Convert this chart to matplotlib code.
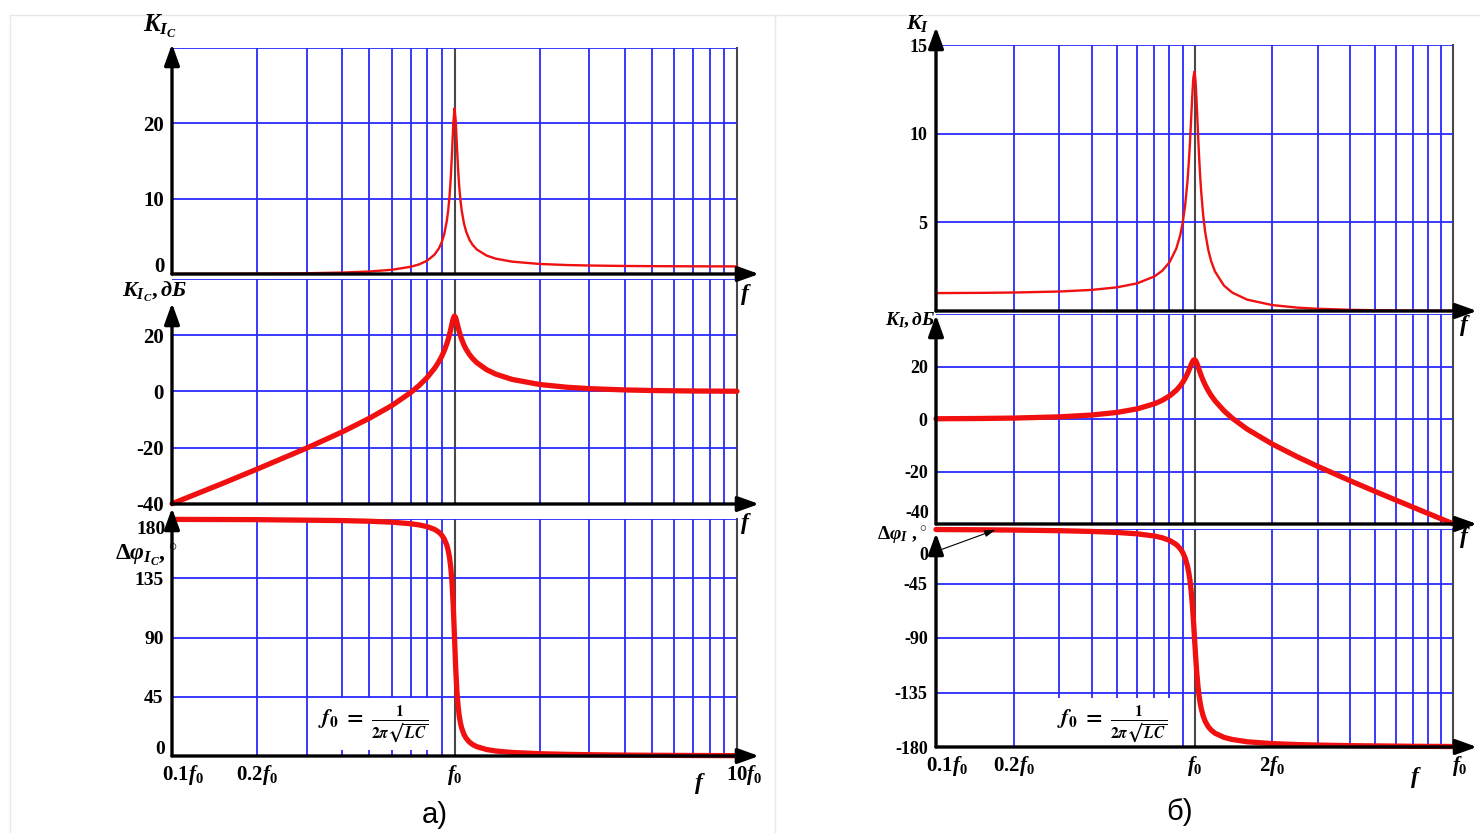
import numpy as np
import matplotlib
matplotlib.use('Agg')
import matplotlib.pyplot as plt
from matplotlib.ticker import NullLocator, LogLocator, NullFormatter
from matplotlib.patches import FancyArrowPatch
from matplotlib.lines import Line2D

plt.rcParams['font.family'] = ['Liberation Serif', 'DejaVu Serif']
plt.rcParams['font.weight'] = 'bold'
plt.rcParams['mathtext.fontset'] = 'custom'
plt.rcParams['mathtext.rm'] = 'Liberation Serif:bold'
plt.rcParams['mathtext.it'] = 'Liberation Serif:bold:italic'
plt.rcParams['mathtext.bf'] = 'Liberation Serif:bold'

# ---------------- data ----------------
# relative frequency f/f0
freq = [0.1, 0.15, 0.2, 0.3, 0.4, 0.5, 0.6, 0.7, 0.75, 0.8, 0.85, 0.88, 0.9, 0.92,
        0.94, 0.95, 0.96, 0.97, 0.98, 0.99, 1.0, 1.01, 1.02, 1.03, 1.04, 1.05, 1.06,
        1.08, 1.1, 1.13, 1.16, 1.2, 1.3, 1.4, 1.6, 2.0, 2.5, 3.0, 4.0, 5.0, 7.0, 10.0]

# panel a) : K_IC
kc_lin = [0.0101, 0.023, 0.0417, 0.0989, 0.19, 0.333, 0.5625, 0.959, 1.282, 1.769, 2.578,
          3.38, 4.169, 5.317, 7.126, 8.466, 10.27, 12.77, 16.11, 19.9, 22.0, 20.35, 16.92,
          13.81, 11.47, 9.75, 8.47, 6.72, 5.605, 4.534, 3.849, 3.248, 2.44, 2.037, 1.639,
          1.333, 1.19, 1.125, 1.067, 1.042, 1.021, 1.01]
kc_db = [-39.9, -32.8, -27.6, -20.1, -14.4, -9.5, -5.0, -0.36, 2.16, 4.95, 8.23, 10.58,
         12.40, 14.51, 17.06, 18.55, 20.23, 22.12, 24.14, 25.98, 26.85, 26.17, 24.57, 22.80,
         21.19, 19.78, 18.56, 16.55, 14.97, 13.13, 11.71, 10.23, 7.75, 6.18, 4.29, 2.50,
         1.51, 1.02, 0.56, 0.35, 0.18, 0.09]
kc_phase = [179.7, 179.6, 179.5, 179.1, 178.8, 178.3, 177.6, 176.4, 175.5, 174.2, 172.1,
            170.0, 167.9, 164.8, 159.9, 156.1, 150.9, 143.3, 131.6, 113.9, 90.0, 66.4, 48.9,
            37.5, 30.1, 24.95, 21.3, 16.4, 13.4, 10.5, 8.67, 7.06, 4.9, 3.79, 2.67, 1.74,
            1.24, 0.97, 0.69, 0.54, 0.38, 0.26]

# panel б) : K_I
ki_lin = [1.01, 1.023, 1.042, 1.099, 1.19, 1.332, 1.559, 1.951, 2.268, 2.741, 3.514, 4.259,
          4.967, 5.952, 7.373, 8.317, 9.445, 10.75, 12.09, 13.16, 13.5, 12.9, 11.67, 10.24,
          8.91, 7.77, 6.83, 5.417, 4.439, 3.457, 2.808, 2.228, 1.435, 1.036, 0.639, 0.333,
          0.19, 0.125, 0.0667, 0.0417, 0.0208, 0.0101]
ki_db = [0.09, 0.20, 0.35, 0.82, 1.51, 2.49, 3.86, 5.80, 7.11, 8.76, 10.92, 12.59, 13.92,
         15.49, 17.35, 18.40, 19.50, 20.63, 21.65, 22.38, 22.61, 22.21, 21.34, 20.21, 19.00,
         17.81, 16.69, 14.68, 12.95, 10.77, 8.97, 6.96, 3.14, 0.30, -3.89, -9.55, -14.41,
         -18.06, -23.52, -27.6, -33.6, -39.9]
ki_phase = [-0.43, -0.65, -0.88, -1.40, -2.02, -2.83, -3.97, -5.81, -7.24, -9.35, -12.79,
            -16.12, -19.33, -23.92, -30.88, -35.83, -42.2, -50.57, -61.4, -74.8, -90.0,
            -105.0, -118.1, -128.6, -136.7, -142.8, -147.6, -154.3, -158.8, -163.2, -166.0,
            -168.6, -172.05, -173.8, -175.7, -177.2, -178.0, -178.4, -178.9, -179.1, -179.4,
            -179.6]

# y ticks ('' = label drawn separately, shifted off the neighbouring axis)
a1_ticks, a1_labels = [0, 10, 20, 30], ['', '10', '20', '']
a2_ticks, a2_labels = [-40, -20, 0, 20, 40], ['-40', '-20', '0', '20', '']
a3_ticks, a3_labels = [0, 45, 90, 135, 180], ['', '45', '90', '135', '']
b1_ticks, b1_labels = [0, 5, 10, 15], ['', '5', '10', '15']
b2_ticks, b2_labels = [-40, -20, 0, 20, 40], ['', '-20', '0', '20', '']
b3_ticks, b3_labels = [-180, -135, -90, -45, 0], ['-180', '-135', '-90', '-45', '']

# x tick labels
a_xticks = [0.1, 0.2, 1.0, 10.0]
a_xlabels = [r'$0.1f_0$', r'$0.2f_0$', r'$f_0$', r'$10f_0$']
b_xticks = [0.1, 0.2, 1.0, 2.0, 10.0]
b_xlabels = [r'$0.1f_0$', r'$0.2f_0$', r'$f_0$', r'$2f_0$', r'$f_0$']

# ---------------- figure ----------------
W, H = 1480, 833
fig = plt.figure(figsize=(W / 100, H / 100), dpi=100)
fig.patch.set_facecolor('white')

BLUE = '#2a2aff'
RED = '#f01010'
GRAY = '#484848'


def fx(x):
    return x / W


def fy(y):
    return 1 - y / H


def arrow(x0, y0, x1, y1, lw=2.4):
    fig.add_artist(FancyArrowPatch((fx(x0), fy(y0)), (fx(x1), fy(y1)),
                                   transform=fig.transFigure,
                                   arrowstyle='-|>,head_length=0.75,head_width=0.27',
                                   mutation_scale=17, lw=lw, color='black',
                                   shrinkA=0, shrinkB=0, zorder=6))


def make_ax(x0, x1, ytop, ybot, ylim, ticks, labels, ytip, xtip, fsize):
    ax = fig.add_axes([fx(x0), fy(ybot), (x1 - x0) / W, (ybot - ytop) / H])
    ax.set_facecolor('none')
    ax.set_xscale('log')
    ax.set_xlim(0.1, 10)
    ax.set_ylim(*ylim)
    for s in ax.spines.values():
        s.set_visible(False)
    ax.xaxis.set_major_locator(NullLocator())
    ax.xaxis.set_minor_locator(LogLocator(base=10, subs=np.arange(2, 10)))
    ax.xaxis.set_minor_formatter(NullFormatter())
    ax.tick_params(axis='x', which='both', length=0, labelbottom=False)
    ax.set_yticks(ticks, labels)
    ax.tick_params(axis='y', length=0, labelsize=fsize, pad=6)
    ax.grid(True, which='minor', axis='x', color=BLUE, lw=1.3)
    ax.grid(True, which='major', axis='y', color=BLUE, lw=1.3)
    ax.axvline(1.0, color=GRAY, lw=1.5, zorder=1.5)
    ax.axvline(10.0, color=GRAY, lw=1.5, clip_on=False, zorder=1.5)
    arrow(x0, ybot, xtip, ybot)
    arrow(x0, ybot, x0, ytip)
    return ax


# ---- panel a) ----
ax_a1 = make_ax(172, 737, 48, 274, (0, 30), a1_ticks, a1_labels, 44, 759, 15)
ax_a2 = make_ax(172, 737, 279, 504, (-40, 40), a2_ticks, a2_labels, 303, 759, 15)
ax_a3 = make_ax(172, 737, 519, 756, (0, 180), a3_ticks, a3_labels, 508, 759, 14)
ax_a1.plot(freq, kc_lin, color=RED, lw=1.7, clip_on=False, zorder=3)
ax_a2.plot(freq, kc_db, color=RED, lw=3.8, clip_on=False, zorder=3, solid_capstyle='round')
ax_a3.plot(freq, kc_phase, color=RED, lw=3.8, clip_on=False, zorder=3, solid_capstyle='round')

# ---- panel б) ----
ax_b1 = make_ax(936, 1453, 45, 311, (0, 15), b1_ticks, b1_labels, 27, 1477, 13)
ax_b2 = make_ax(936, 1453, 314, 524, (-40, 40), b2_ticks, b2_labels, 315, 1477, 13)
ax_b3 = make_ax(936, 1453, 529, 747, (-180, 0), b3_ticks, b3_labels, 533, 1477, 13)
ax_b1.plot(freq, ki_lin, color=RED, lw=1.7, clip_on=False, zorder=3)
ax_b2.plot(freq, ki_db, color=RED, lw=3.8, clip_on=False, zorder=3, solid_capstyle='round')
ax_b3.plot(freq, ki_phase, color=RED, lw=3.8, clip_on=False, zorder=3, solid_capstyle='round')

# tick labels nudged off the neighbouring axis lines, as in the reference
fig.text(fx(165), fy(267), '0', ha='right', va='center', fontsize=15)
fig.text(fx(166), fy(529), '180', ha='right', va='center', fontsize=14)
fig.text(fx(165), fy(750), '0', ha='right', va='center', fontsize=14)
fig.text(fx(929), fy(513), '-40', ha='right', va='center', fontsize=13)

# x tick labels under the phase panels
for ax, ticks, labs in ((ax_a3, a_xticks, a_xlabels), (ax_b3, b_xticks, b_xlabels)):
    for t, lab in zip(ticks, labs):
        dx = 0
        if t == 0.1:
            dx = 11
        elif t == 10.0:
            dx = 7
        ax.annotate(lab, xy=(t, 0), xycoords=('data', 'axes fraction'),
                    xytext=(dx, -7), textcoords='offset pixels',
                    ha='center', va='top', fontsize=15, annotation_clip=False)

# "f" at axis ends
for (x, y) in ((746, 294), (746, 524), (700, 784), (1465, 325), (1465, 538), (1416, 778)):
    fig.text(fx(x), fy(y), r'$f$', ha='center', va='center', fontsize=17)

# axis titles
fig.text(fx(160), fy(26), r'$K_{I_C}$', ha='center', va='center', fontsize=18)
fig.text(fx(154), fy(292), r'$K_{I_C},дБ$', ha='center', va='center', fontsize=16)
fig.text(fx(146), fy(555), r'$\Delta\varphi_{I_C},^{\circ}$', ha='center', va='center', fontsize=17)
fig.text(fx(918), fy(24), r'$K_I$', ha='center', va='center', fontsize=16)
fig.text(fx(910), fy(320), r'$K_I,дБ$', ha='center', va='center', fontsize=14)
fig.text(fx(902), fy(535), r'$\Delta\varphi_I\ ,^{\circ}$', ha='center', va='center', fontsize=14)

# "0" tick of the phase panel б with its leader line
ax_b3.annotate('0', xy=(0.17, ki_phase[1]), xycoords='data',
               xytext=(fx(928), fy(556)), textcoords='figure fraction',
               ha='right', va='center', fontsize=13, annotation_clip=False,
               arrowprops=dict(arrowstyle='-|>,head_length=0.5,head_width=0.15',
                               color='black', lw=0.8, shrinkA=1, shrinkB=0))

# resonance formula boxes
for ax, xc in ((ax_a3, 373), (ax_b3, 1112)):
    fig.text(fx(xc), fy(724), r'$f_0\;=\;\frac{1}{2\pi\sqrt{LC}}$', ha='center', va='center',
             fontsize=16, math_fontfamily='stix', fontweight='normal',
             bbox=dict(facecolor='white', edgecolor='none', pad=4), zorder=5)

# captions
fig.text(fx(435), fy(815), 'а)', ha='center', va='center', fontsize=21,
         family='Liberation Sans', fontweight='normal')
fig.text(fx(1180), fy(812), 'б)', ha='center', va='center', fontsize=21,
         family='Liberation Sans', fontweight='normal')

# faint picture borders
for xs, ys in (([10, 1480], [15, 15]), ([10, 10], [15, 833]), ([775, 775], [15, 833])):
    fig.add_artist(Line2D([fx(v) for v in xs], [fy(v) for v in ys],
                          transform=fig.transFigure, color='#e8e8e8', lw=1.0, zorder=0))

fig.savefig('out.png', dpi=100, facecolor='white')
